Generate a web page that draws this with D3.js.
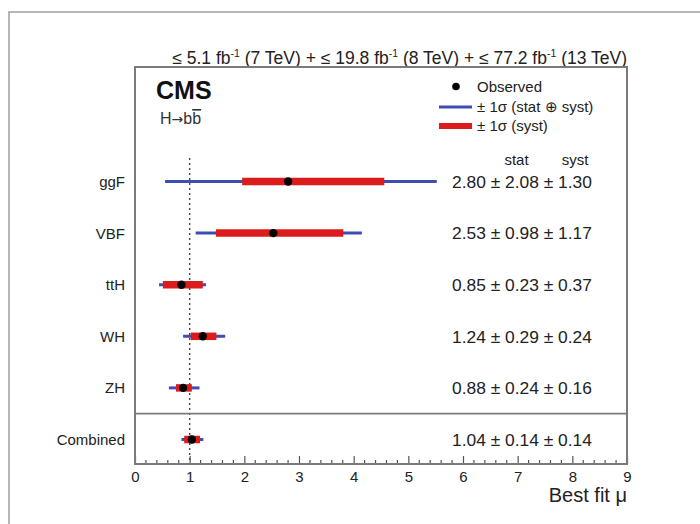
<!DOCTYPE html>
<html>
<head>
<meta charset="utf-8">
<script src="https://cdn.jsdelivr.net/npm/d3@7"></script>
<style>
  html, body { margin: 0; padding: 0; background: #fff; }
  svg { display: block; font-family: "Liberation Sans", Arial, Helvetica, sans-serif; }
</style>
</head>
<body>
<svg id="chart" width="700" height="524"></svg>
<script>
// ---- data ----
const categories = ["ggF", "VBF", "ttH", "WH", "ZH", "Combined"];
const observed   = [2.80, 2.53, 0.85, 1.24, 0.88, 1.04];
const statErr    = [2.08, 0.98, 0.23, 0.29, 0.24, 0.14];
const systErr    = [1.30, 1.17, 0.37, 0.24, 0.16, 0.14];
// interval ends
const totalLow   = [0.55, 1.11, 0.44, 0.88, 0.62, 0.85];
const totalHigh  = [5.52, 4.15, 1.30, 1.65, 1.18, 1.25];
const systLow    = [1.96, 1.48, 0.51, 1.02, 0.75, 0.90];
const systHigh   = [4.56, 3.81, 1.24, 1.49, 1.04, 1.19];
const xTicks     = [0, 1, 2, 3, 4, 5, 6, 7, 8, 9];
const lumiLabel  = [["≤ 5.1 fb", "(7 TeV) + "], ["≤ 19.8 fb", "(8 TeV) + "], ["≤ 77.2 fb", "(13 TeV)"]];

const rows = categories.map((c, i) => ({
  cat: c, obs: observed[i], stat: statErr[i], syst: systErr[i],
  tlo: totalLow[i], thi: totalHigh[i], slo: systLow[i], shi: systHigh[i]
}));

// ---- layout ----
const L = 135, R = 627, T = 67, B = 464;
const svg = d3.select("#chart");
const BLUE = "#3d4db3", RED = "#dc1c1c", FRAME = "#7a7a7a";

const x = d3.scaleLinear().domain([0, 9]).range([L, R]);
const y = d3.scalePoint().domain(categories).range([181.5, 439.5]);

// outer frame
svg.append("rect").attr("x", 9).attr("y", 12).attr("width", 720).attr("height", 540)
  .attr("fill", "none").attr("stroke", "#a0a0a0").attr("stroke-width", 1.5);

// header
const hdr = svg.append("text").attr("x", R).attr("y", 64).attr("text-anchor", "end")
  .attr("font-size", 17.5).attr("fill", "#222");
lumiLabel.forEach(p => {
  hdr.append("tspan").text(p[0]);
  hdr.append("tspan").attr("dy", -7).attr("font-size", 10.5).text("-1");
  hdr.append("tspan").attr("dy", 7).text(" " + p[1]);
});

// dotted line at mu = 1
svg.append("line").attr("x1", x(1)).attr("x2", x(1)).attr("y1", 158).attr("y2", B)
  .attr("stroke", "#444").attr("stroke-width", 1.4).attr("stroke-dasharray", "2,3");

// separator above Combined
const sepY = (y("ZH") + y("Combined")) / 2;
svg.append("line").attr("x1", L).attr("x2", R).attr("y1", sepY).attr("y2", sepY)
  .attr("stroke", FRAME).attr("stroke-width", 1.8);

// total bars
svg.append("g").selectAll("line").data(rows).join("line")
  .attr("x1", d => x(d.tlo)).attr("x2", d => x(d.thi))
  .attr("y1", d => y(d.cat)).attr("y2", d => y(d.cat))
  .attr("stroke", BLUE).attr("stroke-width", 3);
// syst bars
svg.append("g").selectAll("line").data(rows).join("line")
  .attr("x1", d => x(d.slo)).attr("x2", d => x(d.shi))
  .attr("y1", d => y(d.cat)).attr("y2", d => y(d.cat))
  .attr("stroke", RED).attr("stroke-width", 7.5);
// observed points
svg.append("g").selectAll("circle").data(rows).join("circle")
  .attr("cx", d => x(d.obs)).attr("cy", d => y(d.cat)).attr("r", 4.2).attr("fill", "#000");

// category labels
svg.append("g").selectAll("text").data(rows).join("text")
  .attr("x", 125).attr("y", d => y(d.cat)).attr("dy", "0.36em")
  .attr("text-anchor", "end").attr("font-size", 15).attr("fill", "#222")
  .text(d => d.cat);

// value labels
svg.append("g").selectAll("text").data(rows).join("text")
  .attr("x", 452).attr("y", d => y(d.cat)).attr("dy", "0.36em")
  .attr("font-size", 17.4).attr("fill", "#222")
  .text(d => `${d.obs.toFixed(2)} ± ${d.stat.toFixed(2)} ± ${d.syst.toFixed(2)}`);

svg.append("text").attr("x", 516.5).attr("y", 160).attr("dy", "0.36em").attr("text-anchor", "middle")
  .attr("font-size", 15).attr("fill", "#222").text("stat");
svg.append("text").attr("x", 575).attr("y", 160).attr("dy", "0.36em").attr("text-anchor", "middle")
  .attr("font-size", 15).attr("fill", "#222").text("syst");

// axis
const axis = d3.axisBottom(x).tickValues(xTicks).tickSize(-8).tickPadding(7).tickFormat(d3.format("d"));
const ax = svg.append("g").attr("transform", `translate(0,${B})`).call(axis);
ax.select(".domain").remove();
ax.selectAll(".tick line").attr("stroke", "#555").attr("stroke-width", 1.2);
ax.selectAll(".tick text").attr("font-size", 15).attr("fill", "#222")
  .attr("font-family", "Liberation Sans, Arial, sans-serif");
const minor = d3.range(0, 9.001, 0.2).filter(v => Math.abs(v - Math.round(v)) > 1e-6);
svg.append("g").selectAll("line").data(minor).join("line")
  .attr("x1", d => x(d)).attr("x2", d => x(d)).attr("y1", B).attr("y2", B - 4)
  .attr("stroke", "#555").attr("stroke-width", 1.2);

// plot box
svg.append("rect").attr("x", L).attr("y", T).attr("width", R - L).attr("height", B - T)
  .attr("fill", "none").attr("stroke", FRAME).attr("stroke-width", 2);

// axis title
svg.append("text").attr("x", R).attr("y", 502).attr("text-anchor", "end")
  .attr("font-size", 20).attr("fill", "#222").text("Best fit μ");

// CMS label
svg.append("text").attr("x", 156).attr("y", 99).attr("font-size", 25).attr("font-weight", "bold")
  .attr("fill", "#111").text("CMS");
const hb = svg.append("text").attr("x", 160).attr("y", 124).attr("font-size", 16).attr("fill", "#333");
hb.append("tspan").text("H");
hb.append("tspan").attr("font-family", "DejaVu Sans").attr("font-size", 14).text("→");
hb.append("tspan").text("b");
hb.append("tspan").attr("text-decoration", "overline").text("b");

// legend
svg.append("circle").attr("cx", 456).attr("cy", 86.5).attr("r", 3.8).attr("fill", "#000");
svg.append("line").attr("x1", 439).attr("x2", 472).attr("y1", 107).attr("y2", 107)
  .attr("stroke", BLUE).attr("stroke-width", 3);
svg.append("line").attr("x1", 439).attr("x2", 472).attr("y1", 126).attr("y2", 126)
  .attr("stroke", RED).attr("stroke-width", 6);
const legText = ["Observed", "± 1σ (stat ⊕ syst)", "± 1σ (syst)"];
const legY = [86.5, 107, 126];
svg.append("g").selectAll("text").data(legText).join("text")
  .attr("x", 477).attr("y", (d, i) => legY[i]).attr("dy", "0.36em")
  .attr("font-size", 15).attr("fill", "#222").text(d => d);
</script>
</body>
</html>
